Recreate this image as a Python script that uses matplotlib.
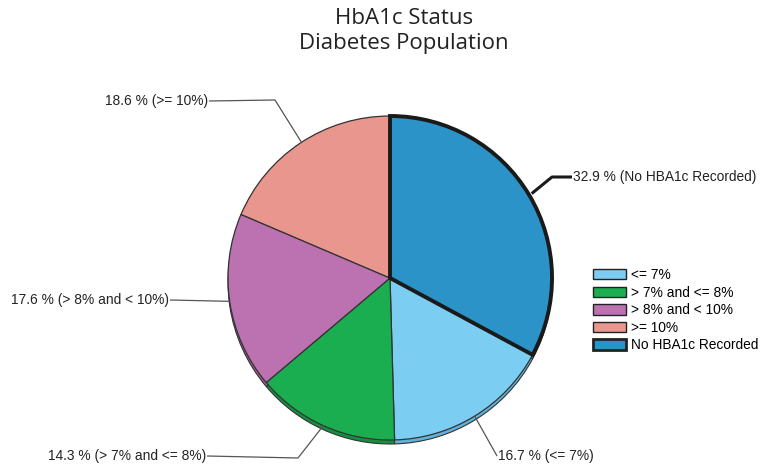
import numpy as np
import matplotlib
matplotlib.use("Agg")
import matplotlib.pyplot as plt
from matplotlib.patches import Patch

# Data (legend order)
categories = ["<= 7%", "> 7% and <= 8%", "> 8% and < 10%", ">= 10%", "No HBA1c Recorded"]
values = [16.7, 14.3, 17.6, 18.6, 32.9]
colors = ["#7ccdf2", "#1bae50", "#bc71b0", "#e9968e", "#2b93c8"]
shadow_colors = ["#5fb3dc", "#14913f", "#9c5b93", "#c97b74", "#1f76a6"]
label_texts = ["16.7 % (<= 7%)", "14.3 % (> 7% and <= 8%)", "17.6 % (> 8% and < 10%)",
               "18.6 % (>= 10%)", "32.9 % (No HBA1c Recorded)"]

W, H = 782, 467
fig = plt.figure(figsize=(W / 100, H / 100), dpi=100)
ax = fig.add_axes([0, 0, 1, 1])
ax.set_xlim(0, W)
ax.set_ylim(0, H)
ax.set_aspect("equal")
ax.axis("off")

label_font = ["Liberation Sans", "DejaVu Sans"]
fs = 9.9

# pie order: start with "No HBA1c Recorded" at top, clockwise
order = [4, 0, 1, 2, 3]
pv = [values[i] for i in order]
pc = [colors[i] for i in order]
psc = [shadow_colors[i] for i in order]
explode = [0.018, 0, 0, 0, 0]

cx, cy, R = 390, H - 278, 162

# 3D rim (shadow layer)
ax.pie(pv, colors=psc, startangle=90, counterclock=False, radius=R,
       center=(cx, cy - 4), explode=explode, frame=True,
       wedgeprops=dict(edgecolor="#333333", linewidth=0.8))
wedges, _ = ax.pie(pv, colors=pc, startangle=90, counterclock=False, radius=R,
                   center=(cx, cy), explode=explode, frame=True,
                   wedgeprops=dict(edgecolor="#333333", linewidth=0.9))
wedges[0].set_edgecolor("#1a1a1a")
wedges[0].set_linewidth(2.8)
wedges[0].set_zorder(5)
ax.set_xlim(0, W)
ax.set_ylim(0, H)
ax.axis("off")

# label positions (text anchor points, pixel coords) and elbow points
label_pos = {
    4: dict(text=(573, 177), elbow=(552, 177), ha="left"),
    0: dict(text=(498, 456), elbow=(497, 456), ha="left"),
    1: dict(text=(206, 456), elbow=(298, 458), ha="right"),
    2: dict(text=(169, 300), elbow=None, ha="right"),
    3: dict(text=(208, 101), elbow=(275, 100), ha="right"),
}

cum = 0
for k, i in enumerate(order):
    v = values[i]
    mid = 90 - (cum + v / 2) / 100 * 360
    cum += v
    th = np.deg2rad(mid)
    r = R + (explode[k] * R if k == 0 else 0)
    sx, sy = cx + r * np.cos(th), cy + r * np.sin(th)
    info = label_pos[i]
    tx, ty = info["text"][0], H - info["text"][1]
    pts_x = [sx]
    pts_y = [sy]
    if info["elbow"] is not None:
        pts_x.append(info["elbow"][0])
        pts_y.append(H - info["elbow"][1])
    pts_x.append(tx + (-1 if info["ha"] == "left" else 1))
    pts_y.append(ty)
    lw = 2.2 if i == 4 else 0.9
    col = "#1a1a1a" if i == 4 else "#555555"
    ax.plot(pts_x, pts_y, color=col, lw=lw, zorder=6, solid_capstyle="butt")
    ax.text(tx, ty, label_texts[i], ha=info["ha"], va="center", fontsize=fs,
            family=label_font, color="#222222")

# Title
fig.text(404 / W, 1 - 31 / H, "HbA1c Status\nDiabetes Population", ha="center", va="center",
         fontsize=16, family=["Open Sans", "DejaVu Sans"], color="#222222", linespacing=1.3)

# Legend
handles = []
for i, (c, lab) in enumerate(zip(colors, categories)):
    handles.append(Patch(facecolor=c, edgecolor="#222222", linewidth=2.0 if i == 4 else 1.0, label=lab))
leg = ax.legend(handles=handles, loc="upper left", bbox_to_anchor=(593 / W, 1 - 268 / H),
                bbox_transform=fig.transFigure, frameon=False, prop=dict(family=label_font, size=fs),
                handlelength=2.4, handleheight=0.8, handletextpad=0.35, labelspacing=0.26,
                borderaxespad=0, borderpad=0)

fig.savefig("out.png", dpi=100)
